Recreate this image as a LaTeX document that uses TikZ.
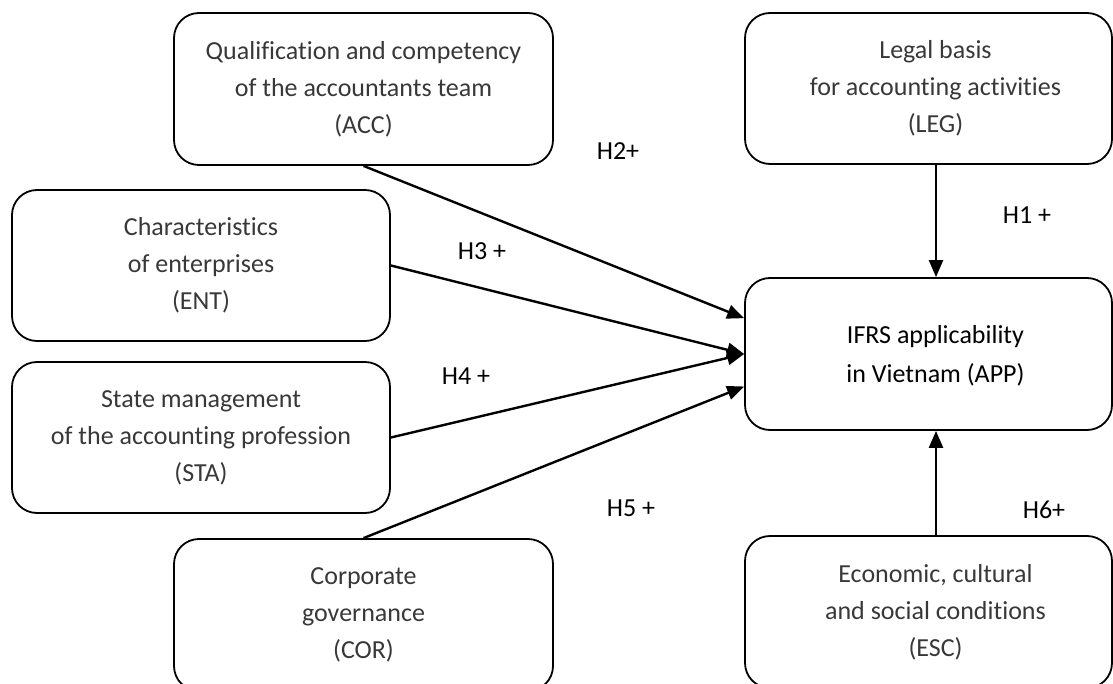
\documentclass[tikz,border=0pt]{standalone}
\usepackage{fontspec}
\setmainfont{Carlito}[Ligatures=NoCommon]
\usetikzlibrary{arrows.meta}
\begin{document}
\begin{tikzpicture}[x=1pt,y=-1pt,
  box/.style={draw, line width=1.8pt, rounded corners=25pt, minimum width=379pt, minimum height=152pt, inner sep=0pt},
  rbox/.style={box, minimum width=367pt},
  lbl/.style={font=\fontsize{26}{37}\selectfont, text=black!78, align=center},
  mainlbl/.style={font=\fontsize{26}{38.5}\selectfont, text=black, align=center},
  hyp/.style={font=\fontsize{26}{30}\selectfont, text=black, inner sep=0pt},
  arr/.style={line width=2.4pt, -{Triangle[length=17pt,width=14pt]}}]
\useasboundingbox (0,0) rectangle (1113,684);
\clip (0,0) rectangle (1113,684);
% left column
\node[box, lbl] (ACC) at (363.5,89) {Qualification and competency\\of the accountants team\\(ACC)};
\node[box, lbl, minimum width=378pt, minimum height=151pt] (ENT) at (201,265.5) {Characteristics\\of enterprises\\(ENT)};
\node[box, lbl, minimum width=378pt, minimum height=151pt] (STA) at (201,437.5) {State management\\of the accounting profession\\(STA)};
\node[box, lbl] (COR) at (363.5,615) {Corporate\\governance\\(COR)};
% right column
\node[rbox, minimum height=151pt] (LEG) at (928.5,88.5) {};
\node[lbl] (LEGt) at ([xshift=7pt]LEG.center) {Legal basis\\for accounting activities\\(LEG)};
\node[rbox] (APP) at (928.5,354) {};
\node[mainlbl] (APPt) at ([xshift=7pt,yshift=-2pt]APP.center) {IFRS applicability\\in Vietnam (APP)};
\node[rbox] (ESC) at (928.5,612) {};
\node[lbl] (ESCt) at ([xshift=7pt]ESC.center) {Economic, cultural\\and social conditions\\(ESC)};
% connectors
\draw[arr] (ACC.south) -- (APP.169);
\draw[arr] (ENT.east) -- (APP.west);
\draw[arr] (STA.east) -- (APP.west);
\draw[arr] (COR.north) -- (APP.190.5);
\draw[arr] ([xshift=7.5pt]LEG.south) -- ([xshift=7.5pt]APP.north);
\draw[arr] ([xshift=7.5pt]ESC.north) -- ([xshift=7.5pt]APP.south);
% hypothesis labels
\node[hyp] (H1) at (1027,215) {H1 +};
\node[hyp] (H2) at (618,151) {H2+};
\node[hyp] (H3) at (482,251) {H3 +};
\node[hyp] (H4) at (466,376) {H4 +};
\node[hyp] (H5) at (631,508) {H5 +};
\node[hyp] (H6) at (1044,510) {H6+};
\end{tikzpicture}
\end{document}
